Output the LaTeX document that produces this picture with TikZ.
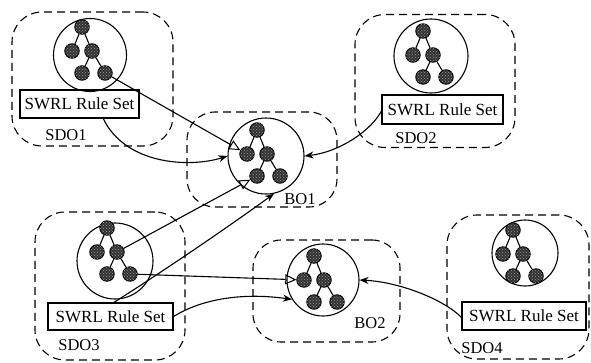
\documentclass[tikz,border=0pt]{standalone}
\usepackage{fontspec}
\setmainfont{Liberation Serif}
\usetikzlibrary{arrows.meta,patterns}
\tikzset{
  grp/.style={draw, dash pattern=on 8pt off 5pt, rounded corners=30pt, line width=1.1pt, inner sep=0pt},
  ont/.style={draw, circle, line width=1.1pt, inner sep=0pt},
  tn/.style={circle, draw, line width=0.9pt, fill=black!80, minimum size=14.5pt, inner sep=0pt,
             postaction={pattern=crosshatch dots, pattern color=black!40}},
  tedge/.style={line width=1.1pt},
  rulebox/.style={draw, line width=1.2pt, inner sep=0pt, font=\fontsize{17}{19}\selectfont},
  lbl/.style={inner sep=0pt, font=\fontsize{16.5}{18}\selectfont},
  link/.style={line width=1.1pt},
  tri/.style={link, -{Triangle[open,length=11pt,width=10pt,line width=1pt]}},
  fil/.style={link, -{Stealth[length=9pt,width=7pt]}},
}
\newcommand\otree[3]{%
  \node[tn] (#1t) at (#2,#3) {};
  \node[tn] (#1l) at ({#2-10},{#3+24}) {};
  \node[tn] (#1r) at ({#2+10},{#3+24}) {};
  \node[tn] (#1rl) at ({#2},{#3+46}) {};
  \node[tn] (#1rr) at ({#2+23},{#3+46}) {};
  \draw[tedge] (#1t) -- (#1l);
  \draw[tedge] (#1t) -- (#1r);
  \draw[tedge] (#1r) -- (#1rl);
  \draw[tedge] (#1r) -- (#1rr);
}
\begin{document}
\begin{tikzpicture}[x=1pt,y=-1pt]
\useasboundingbox (0,0) rectangle (591,362);
% group boxes
\node[grp, minimum width=161pt, minimum height=134pt] (g1) at (92.5,79) {};
\node[grp, minimum width=160pt, minimum height=133pt] (g2) at (435,81) {};
\node[grp, minimum width=150pt, minimum height=95pt, rounded corners=28pt] (gb1) at (262,159.5) {};
\node[grp, minimum width=150pt, minimum height=148pt] (g3) at (110,286) {};
\node[grp, minimum width=147pt, minimum height=102pt, rounded corners=28pt] (gb2) at (326.5,291) {};
\node[grp, minimum width=142pt, minimum height=144pt] (g4) at (518,287) {};
% ontology circles
\node[ont, minimum size=73pt] (c1) at (90,55) {};
\node[ont, minimum size=74pt] (c2) at (431,56) {};
\node[ont, minimum size=76pt] (cb1) at (266,156) {};
\node[ont, minimum size=76pt] (c3) at (115,261) {};
\node[ont, minimum size=72pt] (cb2) at (323,280) {};
\node[ont, minimum size=66pt] (c4) at (525,253) {};
% trees
\otree{s1}{82}{27}
\otree{s2}{423}{31}
\otree{b1}{257}{130}
\otree{s3}{107}{228}
\otree{b2}{314}{256}
\otree{s4}{513}{230}
% rule sets
\node[rulebox, minimum width=119pt, minimum height=28pt] (r1) at (79.5,104) {SWRL Rule Set};
\node[rulebox, minimum width=121pt, minimum height=29pt] (r2) at (442.5,109.5) {SWRL Rule Set};
\node[rulebox, minimum width=125pt, minimum height=27pt] (r3) at (110.5,316.5) {SWRL Rule Set};
\node[rulebox, minimum width=124pt, minimum height=28pt] (r4) at (524,316) {SWRL Rule Set};
% labels
\node[lbl] (l1) at (66,135) {SDO1};
\node[lbl] (l2) at (416,138) {SDO2};
\node[lbl] (lb1) at (300,199) {BO1};
\node[lbl] (l3) at (79,345) {SDO3};
\node[lbl] (lb2) at (370,323) {BO2};
\node[lbl] (l4) at (482,348) {SDO4};
% connectors
\coordinate (r1s) at (103,118);
\coordinate (r2w) at (382,110);
\coordinate (r3n) at (113,303);
\coordinate (r4w) at (462,318);
\draw[tri] (s1rr) -- (b1l);
\draw[fil] (r1s) .. controls (125,165) and (190,168) .. (cb1.west);
\draw[fil] (r2w) .. controls (372,130) and (340,152) .. (cb1.east);
\draw[tri] (s3r) -- (b1rl);
\draw[fil] (r3n) .. controls (173,265) and (235,222) .. (cb1.282);
\draw[tri] (s3rr) -- (b2l);
\draw[fil] (r3.east) .. controls (200,300) and (240,292) .. (cb2.212);
\draw[fil] (r4w) .. controls (445,300) and (400,282) .. (cb2.east);
\end{tikzpicture}
\end{document}
